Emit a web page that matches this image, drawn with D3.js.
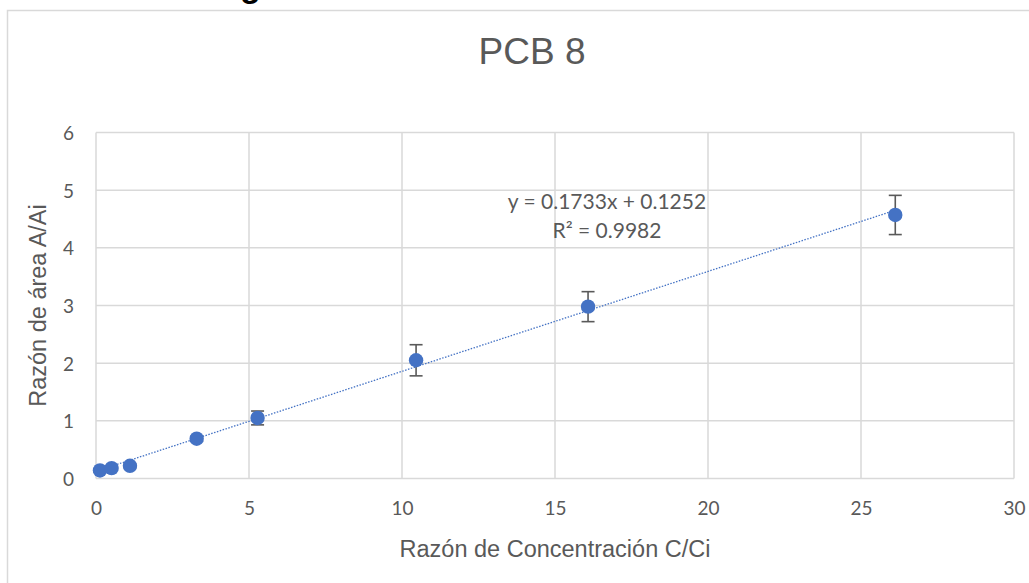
<!DOCTYPE html>
<html>
<head>
<meta charset="utf-8">
<script src="https://cdn.jsdelivr.net/npm/d3@7"></script>
<style>
  body { margin: 0; background: #fff; }
  svg { display: block; }
</style>
</head>
<body>
<div id="chart"></div>
<script>
// datos (PCB 8)
const razonConc = [0.13, 0.51, 1.11, 3.29, 5.28, 10.46, 16.08, 26.12];
const razonArea = [0.14, 0.18, 0.22, 0.69, 1.05, 2.05, 2.98, 4.57];
const errArea   = [0.03, 0.03, 0.03, 0.04, 0.12, 0.27, 0.26, 0.34];
const xTicks = [0, 5, 10, 15, 20, 25, 30];
const yTicks = [0, 1, 2, 3, 4, 5, 6];
const pendiente = 0.1733;
const intercepto = 0.1252;
const r2 = 0.9982;

const width = 1029;
const height = 583;
const margin = {top: 132.5, right: 15, bottom: 104.5, left: 96};

const svg = d3.select("#chart")
    .append("svg")
    .attr("width", width)
    .attr("height", height);

// borde del área del gráfico
svg.append("rect")
    .attr("x", 7.5)
    .attr("y", 10.5)
    .attr("width", 1100)
    .attr("height", 700)
    .attr("fill", "#fff")
    .attr("stroke", "#d9d9d9")
    .attr("stroke-width", 1.5);

// resto de un título que queda cortado arriba
svg.append("text")
    .attr("x", 240)
    .attr("y", -3)
    .attr("font-family", "Liberation Sans, Arial, sans-serif")
    .attr("font-weight", "bold")
    .attr("font-size", 34)
    .attr("fill", "#000")
    .text("g");

const x = d3.scaleLinear().domain([0, 30]).range([margin.left, width - margin.right]);
const y = d3.scaleLinear().domain([0, 6]).range([height - margin.bottom, margin.top]);

const tickFont = "Lato, Carlito, Calibri, sans-serif";

// rejilla
svg.append("g")
    .selectAll("line")
    .data(yTicks)
    .join("line")
    .attr("x1", x(0)).attr("x2", x(30))
    .attr("y1", d => y(d)).attr("y2", d => y(d))
    .attr("stroke", "#d9d9d9")
    .attr("stroke-width", 1.5);

svg.append("g")
    .selectAll("line")
    .data(xTicks)
    .join("line")
    .attr("x1", d => x(d)).attr("x2", d => x(d))
    .attr("y1", y(0)).attr("y2", y(6))
    .attr("stroke", "#d9d9d9")
    .attr("stroke-width", 1.5);

// ejes (solo etiquetas)
const xAxis = svg.append("g")
    .attr("transform", `translate(0,${y(0)})`)
    .call(d3.axisBottom(x).tickValues(xTicks).tickFormat(d3.format("d")).tickSize(0).tickPadding(23));
const yAxis = svg.append("g")
    .attr("transform", `translate(${x(0)},0)`)
    .call(d3.axisLeft(y).tickValues(yTicks).tickFormat(d3.format("d")).tickSize(0).tickPadding(22));
[xAxis, yAxis].forEach(a => {
  a.select(".domain").remove();
  a.selectAll("text")
      .attr("font-family", tickFont)
      .attr("font-size", 19)
      .attr("fill", "#595959");
});
yAxis.selectAll("text").attr("dy", "0.36em");

// línea de tendencia
const trend = [d3.min(razonConc), d3.max(razonConc)].map(v => [v, pendiente * v + intercepto]);
svg.append("path")
    .datum(trend)
    .attr("d", d3.line().x(d => x(d[0])).y(d => y(d[1])))
    .attr("fill", "none")
    .attr("stroke", "#4472c4")
    .attr("stroke-width", 1.3)
    .attr("stroke-dasharray", "1.5 1.5");

const puntos = razonConc.map((c, i) => ({c, a: razonArea[i], e: errArea[i]}));

// barras de error
const eb = svg.append("g")
    .attr("stroke", "#595959")
    .attr("stroke-width", 1.6)
    .selectAll("g")
    .data(puntos)
    .join("g");
eb.append("line")
    .attr("x1", d => x(d.c)).attr("x2", d => x(d.c))
    .attr("y1", d => y(d.a - d.e)).attr("y2", d => y(d.a + d.e));
eb.append("line")
    .attr("x1", d => x(d.c) - 6.5).attr("x2", d => x(d.c) + 6.5)
    .attr("y1", d => y(d.a - d.e)).attr("y2", d => y(d.a - d.e));
eb.append("line")
    .attr("x1", d => x(d.c) - 6.5).attr("x2", d => x(d.c) + 6.5)
    .attr("y1", d => y(d.a + d.e)).attr("y2", d => y(d.a + d.e));

// puntos
svg.append("g")
    .selectAll("circle")
    .data(puntos)
    .join("circle")
    .attr("cx", d => x(d.c))
    .attr("cy", d => y(d.a))
    .attr("r", 7.2)
    .attr("fill", "#4472c4");

// ecuación
const eq = svg.append("g")
    .attr("font-family", tickFont)
    .attr("font-size", 21)
    .attr("fill", "#595959")
    .attr("text-anchor", "middle");
eq.append("text")
    .attr("x", 607).attr("y", 209)
    .text(`y = ${pendiente}x + ${intercepto}`);
eq.append("text")
    .attr("x", 607).attr("y", 238)
    .text(`R² = ${r2}`);

// títulos
svg.append("text")
    .attr("x", 532)
    .attr("y", 64)
    .attr("text-anchor", "middle")
    .attr("font-family", "Liberation Sans, Arial, sans-serif")
    .attr("font-size", 37)
    .attr("fill", "#595959")
    .text("PCB 8");

svg.append("text")
    .attr("x", 555)
    .attr("y", 557)
    .attr("text-anchor", "middle")
    .attr("font-family", "Liberation Sans, Arial, sans-serif")
    .attr("font-size", 23.5)
    .attr("fill", "#595959")
    .text("Razón de Concentración C/Ci");

svg.append("text")
    .attr("transform", `translate(46,${(y(0) + y(6)) / 2}) rotate(-90)`)
    .attr("text-anchor", "middle")
    .attr("font-family", "Liberation Sans, Arial, sans-serif")
    .attr("font-size", 23.5)
    .attr("fill", "#595959")
    .text("Razón de área A/Ai");
</script>
</body>
</html>
